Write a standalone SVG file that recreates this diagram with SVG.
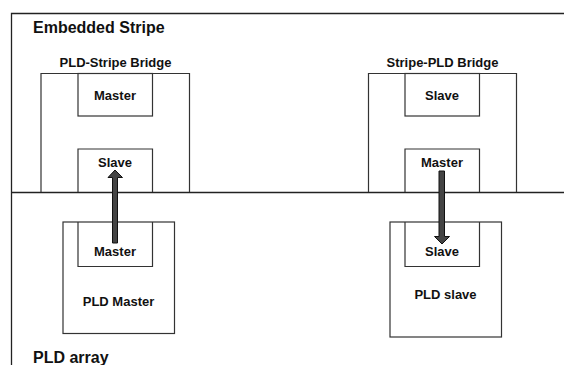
<svg xmlns="http://www.w3.org/2000/svg" width="564" height="365" viewBox="0 0 564 365">
<style>
.box{fill:none;stroke:#333;stroke-width:1.2}
.line{fill:none;stroke:#222;stroke-width:1.3}
text{font-family:"Liberation Sans",Arial,sans-serif;font-weight:bold;fill:#111}
.big{font-size:16px}
.title{font-size:13px;text-anchor:middle}
.lbl{font-size:13px;text-anchor:middle}
.arrow{fill:#444;stroke:#111;stroke-width:1}
</style>
<rect width="564" height="365" fill="#fff"/>
<g id="frame">
<polyline class="line" points="564,13.5 11.5,13.5 11.5,365"/>
<line class="line" x1="11.5" y1="192.5" x2="564" y2="192.5"/>
<text class="big" x="33" y="33">Embedded Stripe</text>
<text class="big" x="33" y="363">PLD array</text>
</g>
<g id="pld-stripe-bridge">
<polyline class="box" points="41,192 41,73.5 189.5,73.5 189.5,192"/>
<text class="title" x="115.5" y="67">PLD-Stripe Bridge</text>
</g>
<g id="bridge1-master">
<rect class="box" x="78" y="73.5" width="74.5" height="42.5"/>
<text class="lbl" x="115" y="99.5">Master</text>
</g>
<g id="bridge1-slave">
<polyline class="box" points="78,192 78,149 152.5,149 152.5,192"/>
<text class="lbl" x="115" y="166.5">Slave</text>
</g>
<g id="stripe-pld-bridge">
<polyline class="box" points="368.5,192 368.5,73.5 516.5,73.5 516.5,192"/>
<text class="title" x="442.5" y="67">Stripe-PLD Bridge</text>
</g>
<g id="bridge2-slave">
<rect class="box" x="405" y="73.5" width="74.5" height="42.5"/>
<text class="lbl" x="442" y="99.5">Slave</text>
</g>
<g id="bridge2-master">
<polyline class="box" points="405,192 405,149 479.5,149 479.5,192"/>
<text class="lbl" x="442" y="166.5">Master</text>
</g>
<g id="pld-master">
<rect class="box" x="63" y="222" width="111.5" height="111.5"/>
<text class="lbl" x="118.5" y="306">PLD Master</text>
</g>
<g id="pld-master-port">
<polyline class="box" points="78,222 78,266.5 152.5,266.5 152.5,222"/>
<text class="lbl" x="115" y="255.5">Master</text>
</g>
<g id="pld-slave">
<rect class="box" x="390" y="222" width="111.5" height="115"/>
<text class="lbl" x="445.5" y="299">PLD slave</text>
</g>
<g id="pld-slave-port">
<polyline class="box" points="405,222 405,266.5 479.5,266.5 479.5,222"/>
<text class="lbl" x="442" y="256">Slave</text>
</g>
<g id="connectors">
<polygon class="arrow" points="112.5,243 112.5,177.5 108,177.5 115,170 122.5,177.5 117.5,177.5 117.5,243"/>
<polygon class="arrow" points="439,171 439,236.5 434.5,236.5 442,244 449.5,236.5 444.5,236.5 444.5,171"/>
</g>
</svg>
